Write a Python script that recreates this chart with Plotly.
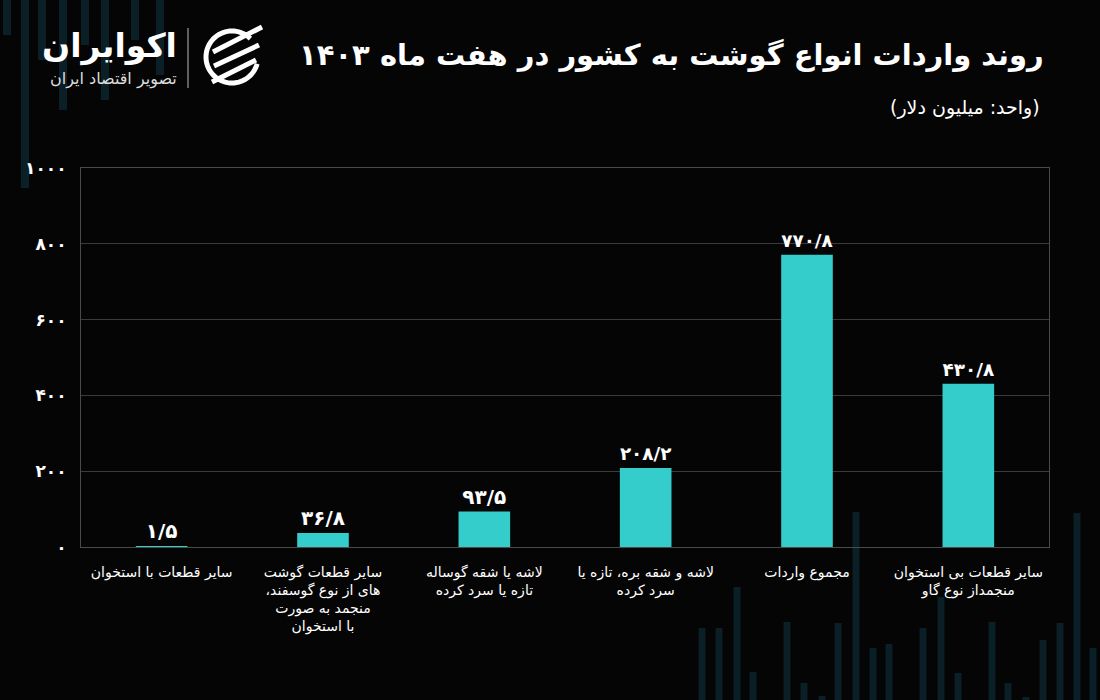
import math
import plotly.graph_objects as go

categories = [
    "سایر قطعات با استخوان",
    "سایر قطعات گوشت<br>های از نوع گوسفند،\u200f<br>منجمد به صورت<br>با استخوان",
    "لاشه یا شقه گوساله<br>تازه یا سرد کرده",
    "لاشه و شقه بره،\u200f تازه یا<br>سرد کرده",
    "مجموع واردات",
    "سایر قطعات بی استخوان<br>منجمداز نوع گاو",
]
values = [1.5, 36.8, 93.5, 208.2, 770.8, 430.8]
y_ticks = [0, 200, 400, 600, 800, 1000]

FA = str.maketrans("0123456789.", "۰۱۲۳۴۵۶۷۸۹/")
def fa(v):
    return str(v).translate(FA)

FONT = "DejaVu Sans"
BAR = "#35CCCC"
BG = "#050505"
DECO = "#0a1f26"

# layout geometry (pixels)
L, R, T, B = 81, 51, 168, 153
W, H = 1100, 700
PW, PH = W - L - R, H - T - B
def X(px): return (px - L) / PW
def Y(py): return (H - B - py) / PH

fig = go.Figure()
fig.add_trace(go.Bar(
    x=list(range(len(categories))), y=values,
    marker=dict(color=BAR, line=dict(width=0)),
    text=["<b>" + fa(v) + "</b>" for v in values], textposition="outside",
    textfont=dict(color="white", size=20, family=FONT),
    cliponaxis=False, hoverinfo="skip",
))

shapes = []
# decorative faint candlestick bars (pixel x, top y, bottom y)
deco_top = [(7, 0, 35), (25, 0, 188), (42, 0, 60), (63, 0, 110), (85, 0, 45),
            (105, 0, 100), (135, 0, 40), (160, 0, 75)]
deco_bot = [(702, 628), (719, 628), (737, 587), (753, 672), (787, 622), (804, 683),
            (822, 696), (838, 623), (856, 512), (873, 648), (889, 644), (923, 628),
            (941, 597), (958, 673), (992, 622), (1008, 683), (1026, 697), (1043, 640),
            (1060, 623), (1077, 513), (1093, 648)]
for px, t, b in deco_top:
    shapes.append(dict(type="rect", xref="paper", yref="paper", x0=X(px - 4), x1=X(px + 4),
                       y0=Y(b), y1=Y(t), fillcolor=DECO, line=dict(width=0), layer="below"))
for px, t in deco_bot:
    shapes.append(dict(type="rect", xref="paper", yref="paper", x0=X(px - 3.5), x1=X(px + 3.5),
                       y0=Y(700), y1=Y(t), fillcolor=DECO, line=dict(width=0), layer="below"))

# logo icon: ring + three diagonal stripes
cx, cy, r = 232, 57, 26
pts = []
for k in range(0, 61):
    a = math.radians(45 + k * 5)
    pts.append((cx + r * math.cos(a), cy - r * math.sin(a)))
path = "M " + " L ".join(f"{X(x):.5f},{Y(y):.5f}" for x, y in pts)
shapes.append(dict(type="path", xref="paper", yref="paper", path=path,
                   line=dict(color="white", width=5)))
for (x0, y0, x1, y1) in [(213, 52, 262, 27), (214, 66, 259, 45), (212, 82, 256, 60)]:
    shapes.append(dict(type="line", xref="paper", yref="paper", x0=X(x0), y0=Y(y0),
                       x1=X(x1), y1=Y(y1), line=dict(color="white", width=5)))
# separator
shapes.append(dict(type="line", xref="paper", yref="paper", x0=X(188), x1=X(188),
                   y0=Y(88), y1=Y(28), line=dict(color="#bbbbbb", width=1)))

fig.update_layout(
    width=W, height=H,
    paper_bgcolor=BG, plot_bgcolor="rgba(0,0,0,0)",
    margin=dict(l=L, r=R, t=T, b=B),
    showlegend=False, bargap=0.68,
    font=dict(family=FONT, color="white"),
    xaxis=dict(tickmode="array", tickvals=list(range(len(categories))),
               ticktext=categories, tickfont=dict(size=14, color="white"),
               showgrid=False, showline=True, linecolor="#4a4a4a", mirror=True,
               ticks="", range=[-0.5, 5.5], ticklabelstandoff=12),
    yaxis=dict(range=[0, 1000], tickmode="array", tickvals=y_ticks,
               ticktext=["<b>" + fa(t) + "</b>" for t in y_ticks],
               tickfont=dict(size=17, color="white"),
               showgrid=True, gridcolor="#3a3a3a", gridwidth=1,
               showline=True, linecolor="#4a4a4a", mirror=True, zeroline=False,
               ticks="", ticklabelstandoff=10),
    shapes=shapes,
    annotations=[
        dict(text="<b>روند واردات انواع گوشت به کشور در هفت ماه ۱۴۰۳</b>",
             xref="paper", yref="paper", x=X(1046), y=Y(55), xanchor="right",
             yanchor="middle", showarrow=False, font=dict(size=29, color="white")),
        dict(text="\u200f(واحد: میلیون دلار)\u200f", xref="paper", yref="paper", x=X(1042),
             y=Y(107), xanchor="right", yanchor="middle", showarrow=False,
             font=dict(size=19, color="white")),
        dict(text="<b>اکوایران</b>", xref="paper", yref="paper", x=X(179), y=Y(46),
             xanchor="right", yanchor="middle", showarrow=False,
             font=dict(size=33, color="white")),
        dict(text="تصویر اقتصاد ایران", xref="paper", yref="paper", x=X(179), y=Y(79),
             xanchor="right", yanchor="middle", showarrow=False,
             font=dict(size=16, color="#dddddd")),
    ],
)

fig.write_html("out.html")
